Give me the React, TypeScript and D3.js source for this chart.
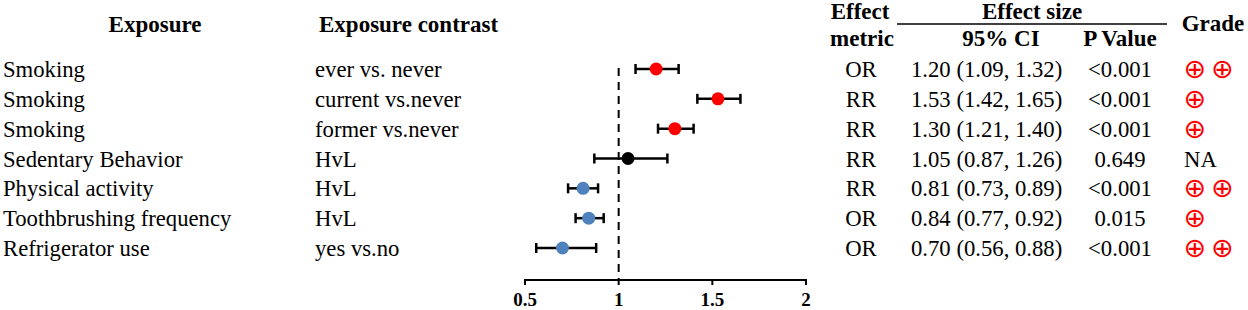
import React from "react";
import * as d3 from "d3";

const exposures = [
  "Smoking",
  "Smoking",
  "Smoking",
  "Sedentary Behavior",
  "Physical activity",
  "Toothbrushing frequency",
  "Refrigerator use",
];
const contrasts = [
  "ever vs. never",
  "current vs.never",
  "former vs.never",
  "HvL",
  "HvL",
  "HvL",
  "yes vs.no",
];
const metrics = ["OR", "RR", "RR", "RR", "RR", "OR", "OR"];
const estimates = [1.2, 1.53, 1.3, 1.05, 0.81, 0.84, 0.7];
const lowers = [1.09, 1.42, 1.21, 0.87, 0.73, 0.77, 0.56];
const uppers = [1.32, 1.65, 1.4, 1.26, 0.89, 0.92, 0.88];
const pValues = ["<0.001", "<0.001", "<0.001", "0.649", "<0.001", "0.015", "<0.001"];
const grades = [2, 1, 1, 0, 2, 1, 2]; // number of ⊕ ; 0 = NA
const groups = ["risk", "risk", "risk", "null", "protective", "protective", "protective"];
const xTicks = [0.5, 1, 1.5, 2];

const groupColor: Record<string, string> = {
  risk: "#FF0000",
  null: "#000000",
  protective: "#4F81BD",
};

const W = 1248;
const H = 310;
const FONT = "'Liberation Serif', 'Times New Roman', serif";
const FS = 22.7;

export default function App() {
  const x = d3.scaleLinear().domain([0.5, 2]).range([525, 806]);
  const y = d3
    .scalePoint<number>()
    .domain(d3.range(exposures.length))
    .range([69, 248]);
  const axisY = 280;
  const fmt = d3.format(".2f");
  const rows = d3.range(exposures.length);

  return (
    <svg
      width={W}
      height={H}
      style={{ position: "absolute", left: 0, top: 0, background: "#fff" }}
      fontFamily={FONT}
      fontSize={FS}
    >
      {/* headers */}
      <g fontWeight="bold" fill="#000" fontSize={23}>
        <text x={155} y={32} textAnchor="middle">Exposure</text>
        <text x={319} y={32}>Exposure contrast</text>
        <text x={860} y={19} textAnchor="middle">Effect</text>
        <text x={862} y={46} textAnchor="middle">metric</text>
        <text x={1032} y={19} textAnchor="middle">Effect size</text>
        <text x={1001} y={46} textAnchor="middle">95% CI</text>
        <text x={1120} y={46} textAnchor="middle">P Value</text>
        <text x={1213} y={31} textAnchor="middle">Grade</text>
      </g>
      <line x1={897} x2={1167} y1={24} y2={24} stroke="#000" strokeWidth={1.5} />

      {/* reference line */}
      <line
        x1={x(1)}
        x2={x(1)}
        y1={68}
        y2={axisY}
        stroke="#000"
        strokeWidth={2}
        strokeDasharray="8,6"
      />

      {/* axis */}
      <line x1={x(0.5)} x2={x(2)} y1={axisY} y2={axisY} stroke="#000" strokeWidth={2} />
      {xTicks.map((t) => (
        <g key={t}>
          <line x1={x(t)} x2={x(t)} y1={axisY - 1} y2={axisY + 5} stroke="#000" strokeWidth={2} />
          <text
            x={x(t)}
            y={306}
            textAnchor="middle"
            fontWeight="bold"
            fontSize={19}
          >
            {String(t)}
          </text>
        </g>
      ))}

      {/* rows */}
      {rows.map((i) => {
        const cy = y(i) as number;
        const base = cy + 8;
        const col = groupColor[groups[i]];
        return (
          <g key={i}>
            <text x={3} y={base}>{exposures[i]}</text>
            <text x={315} y={base}>{contrasts[i]}</text>
            <text x={861} y={base} textAnchor="middle">{metrics[i]}</text>
            <text x={911} y={base}>
              {`${fmt(estimates[i])} (${fmt(lowers[i])}, ${fmt(uppers[i])})`}
            </text>
            <text x={1120} y={base} textAnchor="middle">{pValues[i]}</text>
            {grades[i] === 0 ? (
              <text x={1184} y={base}>NA</text>
            ) : (
              d3.range(grades[i]).map((k) => (
                <text
                  key={k}
                  x={1195 + k * 27.5}
                  y={cy + 9}
                  textAnchor="middle"
                  fill="#FF0000"
                  fontFamily="'DejaVu Sans', sans-serif"
                  fontSize={27}
                >
                  ⊕
                </text>
              ))
            )}
            {/* CI */}
            <line
              x1={x(lowers[i])}
              x2={x(uppers[i])}
              y1={cy}
              y2={cy}
              stroke="#000"
              strokeWidth={2.5}
            />
            <line x1={x(lowers[i])} x2={x(lowers[i])} y1={cy - 5} y2={cy + 5} stroke="#000" strokeWidth={2.5} />
            <line x1={x(uppers[i])} x2={x(uppers[i])} y1={cy - 5} y2={cy + 5} stroke="#000" strokeWidth={2.5} />
            <circle cx={x(estimates[i])} cy={cy} r={6.5} fill={col} />
          </g>
        );
      })}
    </svg>
  );
}
